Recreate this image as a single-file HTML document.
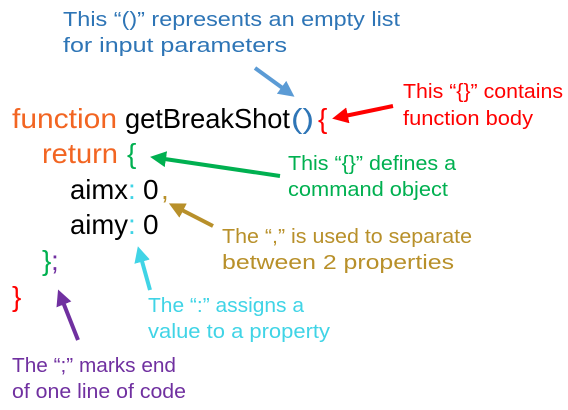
<!DOCTYPE html>
<html><head><meta charset="utf-8"><style>
html,body{margin:0;padding:0;background:#fff;width:568px;height:410px;overflow:hidden}
svg text{font-family:"Liberation Sans",sans-serif}
.c{font-size:28px}
.a{font-size:20px}
</style></head><body>
<svg width="568" height="410" viewBox="0 0 568 410" xmlns="http://www.w3.org/2000/svg">
<defs>
<marker id="mb" markerWidth="4" markerHeight="4" refX="2" refY="2" orient="auto"><path d="M0,0L4,2L0,4z" fill="#5b9bd5"/></marker>
<marker id="mr" markerWidth="4" markerHeight="4" refX="2" refY="2" orient="auto"><path d="M0,0L4,2L0,4z" fill="#ff0000"/></marker>
<marker id="mg" markerWidth="4" markerHeight="4" refX="2" refY="2" orient="auto"><path d="M0,0L4,2L0,4z" fill="#00b050"/></marker>
<marker id="mo" markerWidth="4" markerHeight="4" refX="2" refY="2" orient="auto"><path d="M0,0L4,2L0,4z" fill="#b8902a"/></marker>
<marker id="mc" markerWidth="4" markerHeight="4" refX="2" refY="2" orient="auto"><path d="M0,0L4,2L0,4z" fill="#40d4e6"/></marker>
<marker id="mp" markerWidth="4" markerHeight="4" refX="2" refY="2" orient="auto"><path d="M0,0L4,2L0,4z" fill="#7030a0"/></marker>
</defs>
<text class="c" x="12" y="128" fill="#f26522" textLength="105" lengthAdjust="spacingAndGlyphs">function</text>
<text class="c" x="125" y="128" fill="#000" textLength="165" lengthAdjust="spacingAndGlyphs">getBreakShot</text>
<text class="c" x="291" y="128" fill="#2e75b6" textLength="23" lengthAdjust="spacingAndGlyphs">()</text>
<text class="c" x="318" y="128" fill="#ff0000">{</text>
<text class="c" x="42" y="163" fill="#f26522" textLength="76" lengthAdjust="spacingAndGlyphs">return</text>
<text class="c" x="127" y="163" fill="#00b050">{</text>
<text class="c" x="70" y="199" fill="#000" textLength="58" lengthAdjust="spacingAndGlyphs">aimx</text>
<text class="c" x="128" y="199" fill="#40d4e6">:</text>
<text class="c" x="143" y="199" fill="#000">0</text>
<text class="c" x="161" y="199" fill="#b8902a">,</text>
<text class="c" x="70" y="234" fill="#000" textLength="58" lengthAdjust="spacingAndGlyphs">aimy</text>
<text class="c" x="128" y="234" fill="#40d4e6">:</text>
<text class="c" x="143" y="234" fill="#000">0</text>
<text class="c" x="42" y="270" fill="#00b050">}</text>
<text class="c" x="51" y="270" fill="#7030a0">;</text>
<text class="c" x="12" y="306" fill="#ff0000">}</text>
<text class="a" x="63" y="26" fill="#2e75b6" textLength="337" lengthAdjust="spacingAndGlyphs">This “()” represents an empty list</text>
<text class="a" x="63" y="52" fill="#2e75b6" textLength="224" lengthAdjust="spacingAndGlyphs">for input parameters</text>
<text class="a" x="403" y="98" fill="#ff0000" textLength="160" lengthAdjust="spacingAndGlyphs">This “{}” contains</text>
<text class="a" x="403" y="125" fill="#ff0000" textLength="130" lengthAdjust="spacingAndGlyphs">function body</text>
<text class="a" x="288" y="170" fill="#00b050" textLength="168" lengthAdjust="spacingAndGlyphs">This “{}” defines a</text>
<text class="a" x="288" y="196" fill="#00b050" textLength="160" lengthAdjust="spacingAndGlyphs">command object</text>
<text class="a" x="222" y="243" fill="#b8902a" textLength="250" lengthAdjust="spacingAndGlyphs">The “,” is used to separate</text>
<text class="a" x="222" y="269" fill="#b8902a" textLength="232" lengthAdjust="spacingAndGlyphs">between 2 properties</text>
<text class="a" x="148" y="312" fill="#40d4e6" textLength="156" lengthAdjust="spacingAndGlyphs">The “:” assigns a</text>
<text class="a" x="148" y="338" fill="#40d4e6" textLength="182" lengthAdjust="spacingAndGlyphs">value to a property</text>
<text class="a" x="12" y="372" fill="#7030a0" textLength="164" lengthAdjust="spacingAndGlyphs">The “;” marks end</text>
<text class="a" x="12" y="398" fill="#7030a0" textLength="174" lengthAdjust="spacingAndGlyphs">of one line of code</text>
<g stroke-width="4" fill="none">
<line x1="255" y1="68" x2="288" y2="92" stroke="#5b9bd5" marker-end="url(#mb)"/>
<line x1="393" y1="106" x2="340" y2="117" stroke="#ff0000" marker-end="url(#mr)"/>
<line x1="280" y1="176" x2="158" y2="158" stroke="#00b050" marker-end="url(#mg)"/>
<line x1="213" y1="226" x2="176" y2="207" stroke="#b8902a" marker-end="url(#mo)"/>
<line x1="150" y1="290" x2="140" y2="254" stroke="#40d4e6" marker-end="url(#mc)"/>
<line x1="78" y1="340" x2="61" y2="297" stroke="#7030a0" marker-end="url(#mp)"/>
</g>
</svg>
</body></html>
